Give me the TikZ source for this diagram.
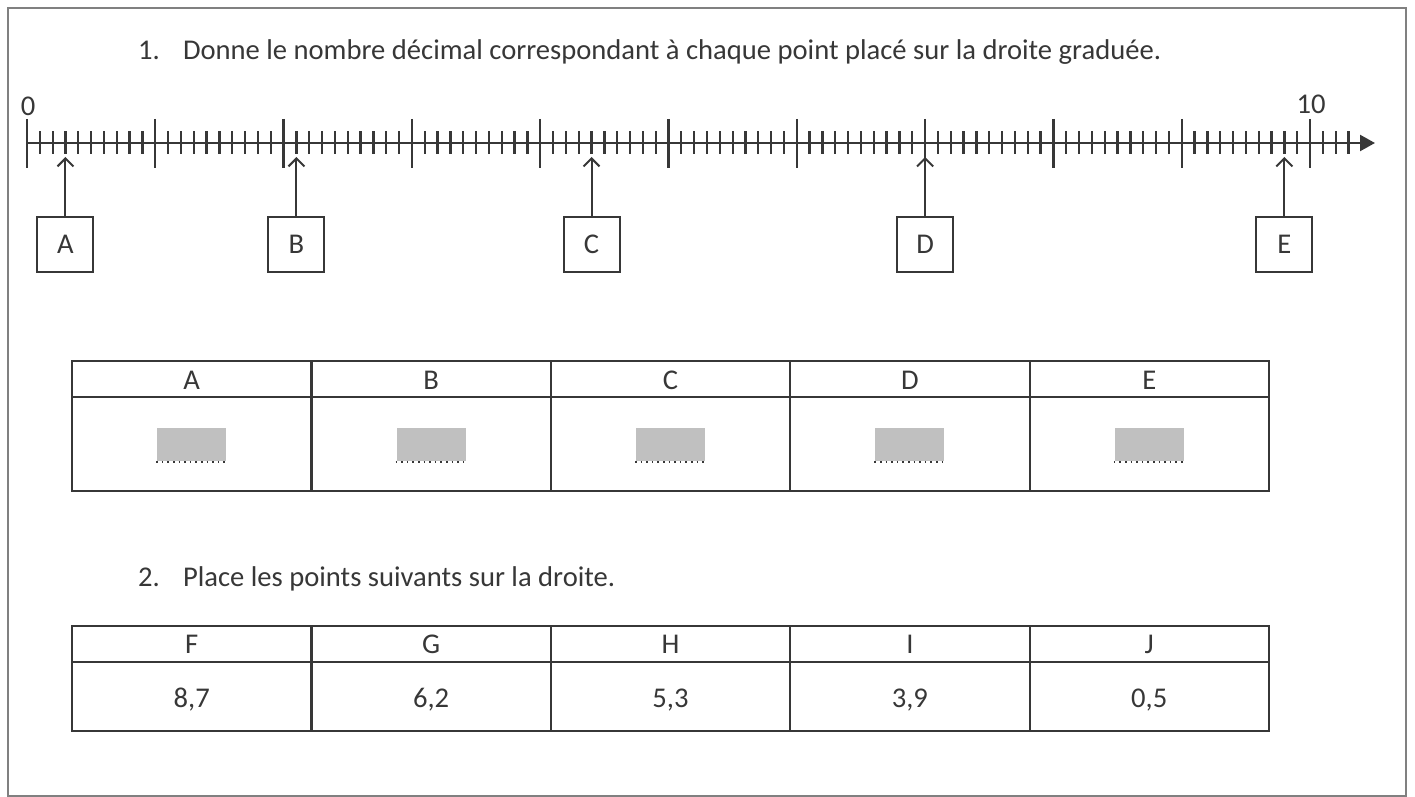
\documentclass[tikz,border=0pt]{standalone}
\usepackage{fontspec}
\setmainfont{Carlito}
\usetikzlibrary{arrows.meta}
\definecolor{ink}{RGB}{55,55,55}
\definecolor{blank}{RGB}{192,192,192}
\tikzset{
  txt/.style={inner sep=0pt,text height=9.2pt,text depth=0pt},
  pointbox/.style={draw=ink,line width=1pt,minimum width=28pt,minimum height=27.5pt,inner sep=0pt},
  answer/.style={fill=blank,minimum width=34.5pt,minimum height=16.5pt,inner sep=0pt},
  grid line/.style={line width=1.1pt},
  tick/.style={line width=1.15pt},
}
\begin{document}
\begin{tikzpicture}[x=0.5pt,y=-0.5pt,color=ink,line width=1pt,
    font=\fontsize{14.3}{17}\selectfont]
  \useasboundingbox (0,0) rectangle (1415,797);
  \draw[gray,line width=1.4pt] (8,8) rectangle (1406,796);
  % question 1
  \node[txt,anchor=west] (num1) at (137,50) {1.};
  \node[txt,anchor=west] (q1) at (182,50)
    {Donne le nombre décimal correspondant à chaque point placé sur la droite graduée.};
  % number line
  \draw[-{Triangle[length=7.5pt,width=8pt]},line width=1.15pt] (27,143) -- (1375,143);
  \foreach \i in {0,...,103}
    \draw[tick] ({27+12.83*\i},131.5) -- ++(0,23);
  \foreach \i in {0,...,10}
    \draw[tick] ({27+128.3*\i},119) -- ++(0,49);
  \node[txt] (zero) at (28,106) {0};
  \node[txt] (ten) at (1311,104) {10};
  \foreach \name/\val in {A/0.3,B/2.1,C/4.4,D/7,E/9.8} {
    \node[pointbox,txt] (box\name) at ({27+128.3*\val},244.5) {\name};
    \coordinate (tip\name) at ({27+128.3*\val},157);
    \draw[-{Straight Barb[length=4pt,width=8pt]}] (box\name) -- (tip\name);
  }
  % table 1
  \draw[grid line] (72,361) rectangle (1269,491);
  \draw[grid line] (72,397) -- (1269,397);
  \foreach \k in {1,...,4}
    \draw[grid line] ({72+239.4*\k},361) -- ({72+239.4*\k},491);
  \foreach \name [count=\k from 0] in {A,B,C,D,E} {
    \node[txt] (head\name) at ({191.7+239.4*\k},380) {\name};
    \node[answer] (ans\name) at ({191.7+239.4*\k},444.5) {};
    \draw[dotted,line width=0.8pt] (ans\name.south west) -- (ans\name.south east);
  }
  % question 2
  \node[txt,anchor=west] (num2) at (137,577) {2.};
  \node[txt,anchor=west] (q2) at (182,577) {Place les points suivants sur la droite.};
  % table 2
  \draw[grid line] (72,626) rectangle (1269,731);
  \draw[grid line] (72,662) -- (1269,662);
  \foreach \k in {1,...,4}
    \draw[grid line] ({72+239.4*\k},626) -- ({72+239.4*\k},731);
  \foreach \name/\val [count=\k from 0] in {F/{8,7},G/{6,2},H/{5,3},I/{3,9},J/{0,5}} {
    \node[txt] (head\name) at ({191.7+239.4*\k},644.5) {\name};
    \node[txt] (val\name) at ({191.7+239.4*\k},698) {\val};
  }
\end{tikzpicture}
\end{document}
